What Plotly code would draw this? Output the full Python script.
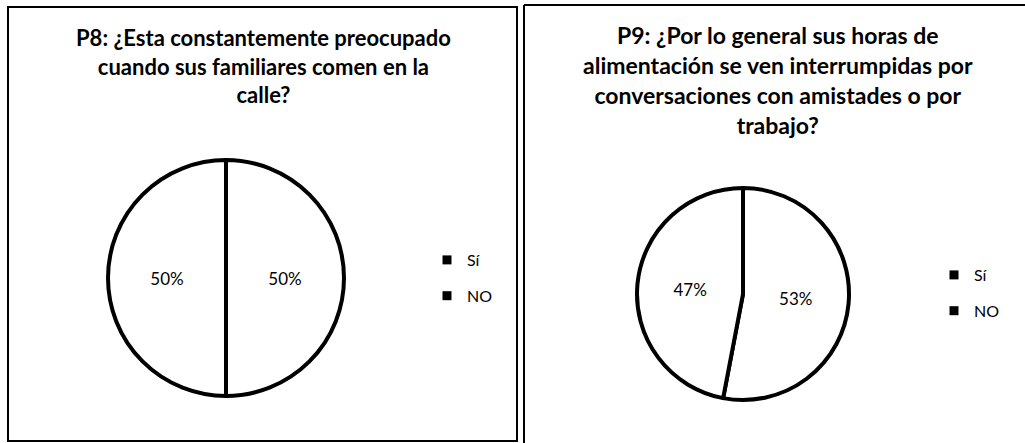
import plotly.graph_objects as go

W, H = 1025, 443

categorias = ["Sí", "NO"]
p8_valores = [50, 50]
p9_valores = [53, 47]

p8_titulo = "P8: ¿Esta constantemente preocupado<br>cuando sus familiares comen en la<br>calle?"
p9_titulo = "P9: ¿Por lo general sus horas de<br>alimentación se ven interrumpidas por<br>conversaciones con amistades o por<br>trabajo?"


def px_x(x):
    return x / W


def px_y(y):
    return 1 - y / H


def pie_trace(valores, cx, cy, r):
    return go.Pie(
        labels=categorias,
        values=valores,
        sort=False,
        direction="clockwise",
        rotation=0,
        textinfo="percent",
        textposition="inside",
        insidetextorientation="horizontal",
        textfont=dict(family="Lato", size=17, color="black"),
        marker=dict(colors=["white", "white"], line=dict(color="black", width=4)),
        domain=dict(x=[px_x(cx - r), px_x(cx + r)], y=[px_y(cy + r), px_y(cy - r)]),
        showlegend=False,
        hoverinfo="label+percent",
    )


fig = go.Figure()
fig.add_trace(pie_trace(p8_valores, 226, 278, 118))
fig.add_trace(pie_trace(p9_valores, 743, 294, 106))

# legend entries: black squares like the scanned original
for leg in ["legend", "legend2"]:
    for i, cat in enumerate(categorias):
        fig.add_trace(go.Scatter(
            x=[None], y=[None], mode="markers", name=cat,
            marker=dict(symbol="square", size=9, color="black"),
            legend=leg, legendgroup=leg + str(i), showlegend=True,
        ))

leg_style = dict(
    font=dict(family="Lato", size=16, color="black"),
    bgcolor="rgba(0,0,0,0)",
    tracegroupgap=12,
    itemwidth=30,
    xanchor="left", yanchor="top",
)

fig.update_layout(
    width=W, height=H,
    margin=dict(l=0, r=0, t=0, b=0),
    paper_bgcolor="white",
    plot_bgcolor="white",
    xaxis=dict(visible=False),
    yaxis=dict(visible=False),
    legend=dict(x=px_x(427), y=px_y(243), **leg_style),
    legend2=dict(x=px_x(934), y=px_y(258), **leg_style),
    annotations=[
        dict(text="<b>" + p8_titulo + "</b>", x=px_x(263), y=px_y(22),
             xref="paper", yref="paper", xanchor="center", yanchor="top",
             showarrow=False, font=dict(family="Lato", size=22, color="black")),
        dict(text="<b>" + p9_titulo + "</b>", x=px_x(778), y=px_y(19),
             xref="paper", yref="paper", xanchor="center", yanchor="top",
             showarrow=False, font=dict(family="Lato", size=23, color="black")),
    ],
    shapes=[
        dict(type="rect", xref="paper", yref="paper",
             x0=px_x(8), x1=px_x(517), y0=px_y(441), y1=px_y(7),
             line=dict(color="black", width=2)),
        dict(type="line", xref="paper", yref="paper",
             x0=px_x(524), x1=px_x(524), y0=px_y(443), y1=px_y(5),
             line=dict(color="black", width=2)),
        dict(type="line", xref="paper", yref="paper",
             x0=px_x(524), x1=px_x(1025), y0=px_y(5), y1=px_y(5),
             line=dict(color="black", width=2)),
    ],
)

fig.write_html("out.html", config={"displayModeBar": False},
               post_script="document.body.style.margin='0';")
